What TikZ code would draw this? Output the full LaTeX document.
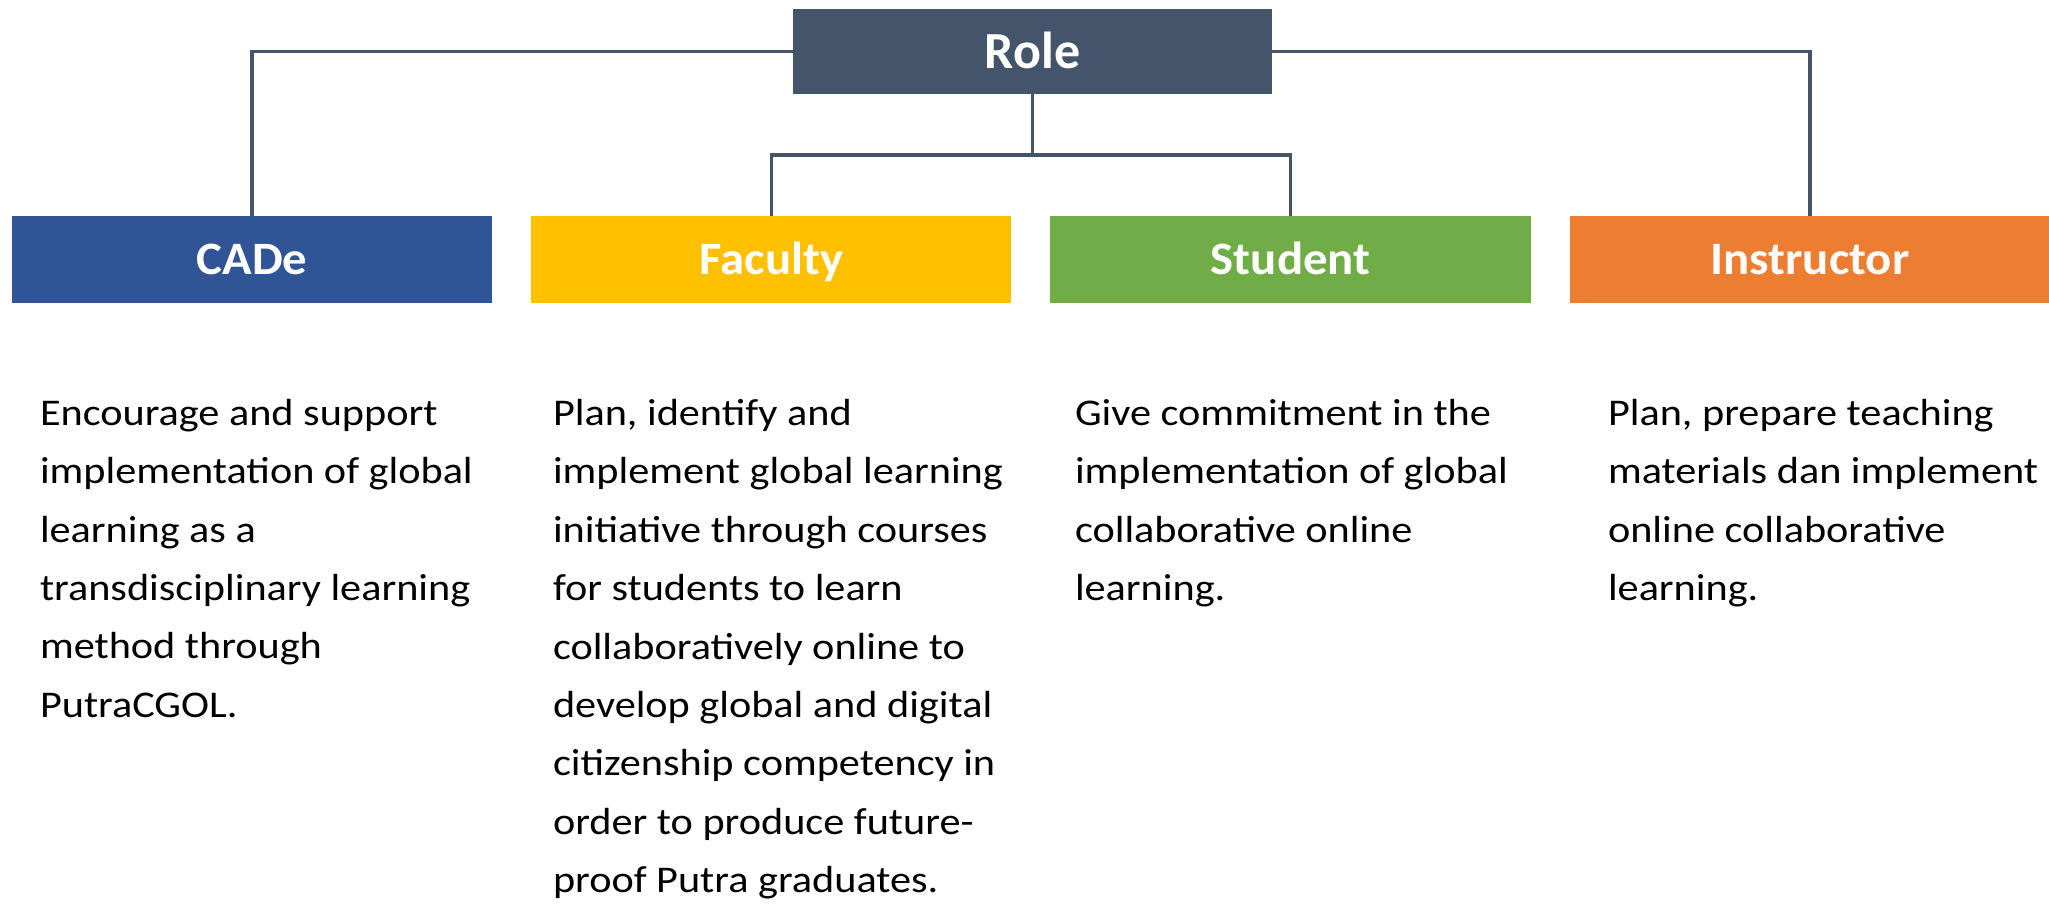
\documentclass[tikz,border=0pt]{standalone}
\usepackage{fontspec}
\setmainfont{Carlito}
\newfontfamily\bodyfont[FakeStretch=1.12]{Carlito}
\newfontfamily\labelfont[FakeStretch=1.05]{Carlito}
\usetikzlibrary{positioning}

\definecolor{rolegray}{HTML}{44546A}
\definecolor{cadeblue}{HTML}{2F5597}
\definecolor{facultyyellow}{HTML}{FFC000}
\definecolor{studentgreen}{HTML}{70AD47}
\definecolor{instructororange}{HTML}{ED7D31}

\begin{document}
\begin{tikzpicture}[
    x=0.01cm, y=-0.01cm,
    node distance=0.39cm,
    every node/.style={inner sep=0pt, outer sep=0pt},
    head/.style={fill=rolegray, text=white, minimum width=4.79cm, minimum height=0.85cm, font=\bfseries\fontsize{14.8}{16}\selectfont, text height=9.5pt, text depth=0pt},
    group/.style={text=white, minimum width=4.8cm, minimum height=0.87cm, font=\labelfont\bfseries\fontsize{13.2}{15}\selectfont, text height=8.5pt, text depth=0pt},
    desc/.style={anchor=north west, align=left, font=\bodyfont\fontsize{10.73}{16.62}\selectfont},
    link/.style={draw=rolegray, line width=1pt}
  ]
    \useasboundingbox (0,0) rectangle (2049,906);

    \node[head] (role) at (1032.5,51.5) {Role};

    \node[group, fill=cadeblue] (cade) at (252,259.5) {CADe};
    \node[group, fill=facultyyellow, right=of cade] (faculty) {Faculty};
    \node[group, fill=studentgreen, right=of faculty] (student) {Student};
    \node[group, fill=instructororange, right=of student] (instructor) {Instructor};

    \node[desc] (cadetext) at (40,399) {Encourage and support\\implementation of global\\learning as a\\transdisciplinary learning\\method through\\PutraCGOL.};
    \node[desc] (facultytext) at (553,399) {Plan, identify and\\implement global learning\\initiative through courses\\for students to learn\\collaboratively online to\\develop global and digital\\citizenship competency in\\order to produce future-\\proof Putra graduates.};
    \node[desc] (studenttext) at (1075,399) {Give commitment in the\\implementation of global\\collaborative online\\learning.};
    \node[desc] (instructortext) at (1608,399) {Plan, prepare teaching\\materials dan implement\\online collaborative\\learning.};

    \coordinate (bus) at (1032.5,155);
    \draw[link] (role.west) -| (cade.north);
    \draw[link] (role.east) -| (instructor.north);
    \draw[link] (role.south) -- (bus);
    \draw[link] (faculty.north) |- (bus) -| (student.north);
  \end{tikzpicture}
\end{document}
